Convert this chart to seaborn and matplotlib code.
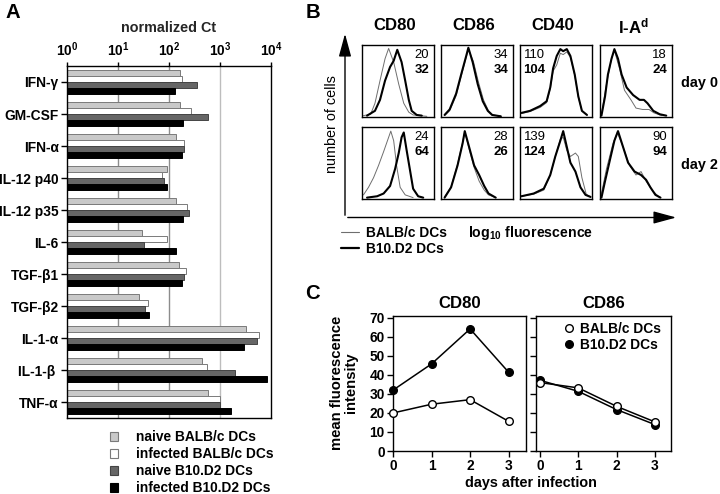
import matplotlib
matplotlib.use("Agg")
import matplotlib.pyplot as plt
import seaborn as sns
import pandas as pd
from matplotlib import font_manager
from matplotlib.lines import Line2D
from matplotlib.patches import FancyArrowPatch
from matplotlib.ticker import NullLocator

# ---------------- data ----------------
cytokines = ["IFN-γ", "GM-CSF", "IFN-α", "IL-12 p40", "IL-12 p35", "IL-6",
             "TGF-β1", "TGF-β2", "IL-1-α", "IL-1-β ", "TNF-α"]
groups = ["naive BALB/c DCs", "infected BALB/c DCs", "naive B10.D2 DCs", "infected B10.D2 DCs"]
naive_balb = [165, 165, 135, 90, 140, 30, 155, 26, 3200, 440, 590]
infected_balb = [180, 270, 200, 74, 230, 90, 215, 38, 5800, 560, 1000]
naive_b10 = [350, 570, 195, 80, 250, 32, 195, 34, 5200, 2000, 990]
infected_b10 = [132, 185, 178, 93, 185, 135, 180, 40, 2950, 8200, 1650]
decade_ticks = [1, 10, 100, 1000, 10000]
decade_labels = ["$10^{0}$", "$10^{1}$", "$10^{2}$", "$10^{3}$", "$10^{4}$"]

markers_B = ["CD80", "CD86", "CD40", "I-A$^{d}$"]
days_B = ["day 0", "day 2"]
mfi_balb_B = [[20, 34, 110, 18], [24, 28, 139, 90]]
mfi_b10_B = [[32, 34, 104, 24], [64, 26, 124, 94]]

# histogram traces (percent of box width / height)
cd80_d0_balb = [(2, 1), (12, 3), (18, 19), (25, 52), (32, 84), (37, 99), (44, 79), (51, 47), (58, 19), (65, 6), (71, 2), (90, 0)]
cd80_d0_b10 = [(7, 1), (18, 8), (25, 24), (32, 52), (39, 72), (44, 81), (49, 97), (55, 79), (60, 52), (65, 24), (69, 8), (76, 2), (83, 1)]
cd86_d0_balb = [(5, 1), (12, 8), (21, 30), (28, 58), (35, 86), (38, 98), (45, 80), (52, 50), (59, 24), (66, 8), (72, 2), (84, 0)]
cd86_d0_b10 = [(5, 2), (12, 10), (21, 33), (28, 61), (35, 88), (38, 100), (44, 79), (51, 47), (58, 22), (65, 8), (71, 2), (83, 0)]
cd40_d0_balb = [(2, 4), (14, 7), (28, 13), (37, 20), (42, 40), (46, 66), (51, 75), (56, 92), (60, 90), (65, 94), (70, 86), (76, 60), (81, 28), (86, 8), (93, 2)]
cd40_d0_b10 = [(2, 5), (14, 8), (28, 15), (37, 22), (42, 42), (46, 70), (51, 88), (56, 98), (60, 95), (65, 98), (70, 88), (76, 61), (81, 29), (86, 8), (93, 2)]
iad_d0_balb = [(2, 3), (9, 47), (16, 84), (20, 96), (27, 70), (34, 38), (43, 24), (50, 12), (59, 10), (68, 10), (75, 5), (86, 1)]
iad_d0_b10 = [(2, 1), (7, 29), (11, 61), (16, 84), (20, 98), (25, 84), (30, 61), (37, 42), (46, 31), (55, 24), (61, 24), (66, 19), (74, 8), (83, 3), (92, 1)]
cd80_d2_balb = [(2, 5), (9, 16), (16, 30), (23, 48), (30, 68), (37, 89), (40, 98), (44, 84), (48, 48), (53, 16), (60, 5), (71, 1)]
cd80_d2_b10 = [(7, 1), (21, 3), (30, 7), (39, 18), (46, 43), (51, 66), (55, 89), (58, 96), (62, 70), (67, 39), (71, 14), (78, 3), (85, 1)]
cd86_d2_balb = [(5, 2), (14, 17), (23, 50), (30, 82), (33, 97), (39, 72), (46, 45), (53, 25), (60, 12), (66, 5), (76, 1)]
cd86_d2_b10 = [(5, 1), (14, 16), (23, 48), (30, 80), (33, 98), (39, 75), (46, 48), (53, 34), (60, 18), (66, 7), (76, 1)]
cd40_d2_balb = [(2, 3), (19, 6), (33, 12), (42, 34), (49, 61), (56, 86), (60, 89), (65, 70), (70, 61), (77, 66), (81, 61), (86, 30), (92, 6), (98, 2)]
cd40_d2_b10 = [(2, 3), (19, 7), (33, 14), (42, 34), (49, 61), (56, 84), (60, 98), (65, 75), (70, 52), (77, 39), (84, 16), (91, 5), (98, 2)]
iad_d2_balb = [(2, 7), (9, 43), (18, 80), (24, 96), (32, 75), (41, 48), (50, 34), (57, 39), (64, 25), (73, 11), (82, 2)]
iad_d2_b10 = [(2, 1), (7, 25), (14, 57), (20, 84), (25, 98), (32, 75), (39, 52), (48, 39), (57, 34), (64, 27), (70, 16), (77, 5), (84, 1)]

days_C = [0, 1, 2, 3]
cd80_balb_C = [20, 24.6, 27, 15.6]
cd80_b10_C = [32, 45.8, 64.2, 41.4]
cd86_balb_C = [36, 33.2, 23.5, 15.3]
cd86_b10_C = [37.2, 31.4, 21.8, 13.9]

# ---------------- style ----------------
sns.set_theme(style="ticks")
names = {f.name for f in font_manager.fontManager.ttflist}
NARROW = "Liberation Sans Narrow" in names
FAM = "Liberation Sans Narrow" if NARROW else "Liberation Sans"
K = 1.0 if NARROW else 0.86
plt.rcParams["font.family"] = [FAM, "DejaVu Sans"]
plt.rcParams["font.weight"] = "bold"
plt.rcParams["mathtext.fontset"] = "custom"
plt.rcParams["mathtext.rm"] = FAM + ":bold"
plt.rcParams["mathtext.bf"] = FAM + ":bold"
plt.rcParams["mathtext.it"] = FAM + ":bold"
plt.rcParams["mathtext.default"] = "rm"
plt.rcParams["axes.edgecolor"] = "black"
plt.rcParams["axes.linewidth"] = 1.0
plt.rcParams["text.color"] = "black"
plt.rcParams["xtick.color"] = "black"
plt.rcParams["ytick.color"] = "black"

W, H = 720, 494
fig = plt.figure(figsize=(W / 100, H / 100), dpi=100)


def px(l, t, r, b):
    return [l / W, 1 - b / H, (r - l) / W, (b - t) / H]


# overlay for free text and arrows (pixel coords)
ov = fig.add_axes([0, 0, 1, 1], zorder=-1)
ov.set_xlim(0, W)
ov.set_ylim(H, 0)
ov.axis("off")

# ---------------- panel A ----------------
rows = []
for g, vals in zip(groups, [naive_balb, infected_balb, naive_b10, infected_b10]):
    for c, v in zip(cytokines, vals):
        rows.append({"cytokine": c, "value": v, "group": g})
dfA = pd.DataFrame(rows)
bar_faces = ["#c9c9c9", "#ffffff", "#666666", "#000000"]
bar_edges = ["#7a7a7a", "#7a7a7a", "#444444", "#000000"]

axA = fig.add_axes(px(67, 66, 271, 418))
sns.barplot(data=dfA, y="cytokine", x="value", hue="group", palette=bar_faces,
            orient="h", width=0.76, ax=axA, linewidth=0.7,
            saturation=1, zorder=2)
axA.set_xscale("log")
for xv, col in [(10, "#8c8c8c"), (100, "#8c8c8c"), (1000, "#bdbdbd")]:
    axA.axvline(xv, color=col, lw=1.0, zorder=0.5)
for cont, ec in zip(axA.containers, bar_edges):
    for p in cont:
        p.set_edgecolor(ec)
handles, labels = axA.get_legend_handles_labels()
if axA.get_legend() is not None:
    axA.get_legend().remove()
axA.set_xlim(1, 10000)
axA.set_ylim(10.5, -0.5)
axA.xaxis.tick_top()
axA.set_xticks(decade_ticks)
axA.set_xticklabels(decade_labels)
axA.xaxis.set_minor_locator(NullLocator())
axA.tick_params(axis="x", top=True, bottom=False, length=3, width=1, labelsize=11.5 * K, pad=2)
axA.tick_params(axis="y", left=True, length=4, width=1, labelsize=11.5 * K, pad=2)
axA.xaxis.set_label_position("top")
axA.set_xlabel("normalized Ct", fontsize=12 * K, fontweight="bold", labelpad=6)
axA.set_ylabel("")
for s in axA.spines.values():
    s.set_visible(True)
    s.set_color("black")

for h, ec in zip(handles, bar_edges):
    h.set_edgecolor(ec)
    h.set_linewidth(0.8)
fig.legend(handles, labels, loc="upper left", bbox_to_anchor=(110 / W, 1 - 430 / H),
           frameon=False, handlelength=0.6, handleheight=0.6, handletextpad=1.3,
           labelspacing=0.22, fontsize=11.5 * K, borderaxespad=0, borderpad=0)

ov.text(13, 13, "A", fontsize=17 * K, fontweight="bold", ha="center", va="center")

# ---------------- panel B ----------------
traces_balb = [[cd80_d0_balb, cd86_d0_balb, cd40_d0_balb, iad_d0_balb],
               [cd80_d2_balb, cd86_d2_balb, cd40_d2_balb, iad_d2_balb]]
traces_b10 = [[cd80_d0_b10, cd86_d0_b10, cd40_d0_b10, iad_d0_b10],
              [cd80_d2_b10, cd86_d2_b10, cd40_d2_b10, iad_d2_b10]]
col_left = [362, 441, 520, 600]
row_top = [45, 127]
BOX = 72
for r in range(2):
    for c in range(4):
        l, t = col_left[c], row_top[r]
        ax = fig.add_axes(px(l, t, l + BOX, t + BOX))
        tb = traces_balb[r][c]
        tk = traces_b10[r][c]
        sns.lineplot(x=[p[0] for p in tb], y=[p[1] for p in tb], color="#6e6e6e",
                     linewidth=0.7, ax=ax, sort=False, estimator=None)
        sns.lineplot(x=[p[0] for p in tk], y=[p[1] for p in tk], color="black",
                     linewidth=1.5, ax=ax, sort=False, estimator=None)
        ax.set_xlim(0, 100)
        ax.set_ylim(-1, 104)
        ax.set_xticks([])
        ax.set_yticks([])
        ax.set_xlabel("")
        ax.set_ylabel("")
        for s in ax.spines.values():
            s.set_visible(True)
            s.set_linewidth(1.0)
        if c == 2:
            xx, ha = 0.05, "left"
        else:
            xx, ha = 0.93, "right"
        ax.text(xx, 0.95, str(mfi_balb_B[r][c]), transform=ax.transAxes, ha=ha, va="top",
                fontsize=11 * K, fontweight="normal")
        ax.text(xx, 0.74, str(mfi_b10_B[r][c]), transform=ax.transAxes, ha=ha, va="top",
                fontsize=11 * K, fontweight="bold")
        if r == 0:
            ov.text(l + BOX / 2 - 3, 26, markers_B[c], fontsize=14 * K, fontweight="bold",
                    ha="center", va="center")
    ov.text(681, row_top[r] + BOX / 2 + 2, days_B[r], fontsize=12 * K, fontweight="bold",
            ha="left", va="center")

ov.add_patch(FancyArrowPatch((345, 218), (345, 31), arrowstyle="-|>,head_length=7,head_width=1.9",
                             mutation_scale=2.0, color="black", lw=1.0))
ov.add_patch(FancyArrowPatch((345, 217.5), (679, 217.5), arrowstyle="-|>,head_length=7,head_width=1.9",
                             mutation_scale=2.0, color="black", lw=1.0))
ov.text(332, 124, "number of cells", rotation=90, fontsize=12 * K, fontweight="normal",
        ha="center", va="center")
ov.text(468, 233, "log$_{10}$ fluorescence", fontsize=11.8 * K, fontweight="bold",
        ha="left", va="center")
legB = [Line2D([0], [0], color="#6e6e6e", lw=0.8), Line2D([0], [0], color="black", lw=1.6)]
fig.legend(legB, ["BALB/c DCs", "B10.D2 DCs"], loc="upper left",
           bbox_to_anchor=(341 / W, 1 - 226 / H), frameon=False, handlelength=1.3,
           handletextpad=0.5, labelspacing=0.12, fontsize=11.5 * K,
           borderaxespad=0, borderpad=0)
ov.text(313, 13, "B", fontsize=17 * K, fontweight="bold", ha="center", va="center")

# ---------------- panel C ----------------
axC1 = fig.add_axes(px(393, 316, 526, 451))
axC2 = fig.add_axes(px(536, 316, 671, 451))
for ax, balb, b10 in [(axC1, cd80_balb_C, cd80_b10_C), (axC2, cd86_balb_C, cd86_b10_C)]:
    sns.lineplot(x=days_C, y=b10, color="black", lw=1.1, marker="o", markersize=5.5,
                 markerfacecolor="black", markeredgecolor="black", markeredgewidth=1.0,
                 ax=ax, clip_on=False, zorder=3)
    sns.lineplot(x=days_C, y=balb, color="black", lw=1.1, marker="o", markersize=5.5,
                 markerfacecolor="white", markeredgecolor="black", markeredgewidth=1.0,
                 ax=ax, clip_on=False, zorder=4)
    ax.set_ylim(0, 71)
    ax.set_yticks(range(0, 71, 10))
    ax.set_xticks(days_C)
    ax.set_xlabel("")
    ax.set_ylabel("")
    for s in ax.spines.values():
        s.set_visible(True)
        s.set_linewidth(1.0)
    ax.tick_params(axis="both", length=4, width=1, labelsize=11.5 * K, pad=2)
axC1.set_xlim(0, 3.45)
axC2.set_xlim(-0.1, 3.42)
axC2.set_yticklabels([])
axC1.set_title("CD80", fontsize=14 * K, fontweight="bold", pad=6)
axC2.set_title("CD86", fontsize=14 * K, fontweight="bold", pad=6)
legC = [Line2D([0], [0], ls="none", marker="o", markersize=5.5, markerfacecolor="white",
               markeredgecolor="black"),
        Line2D([0], [0], ls="none", marker="o", markersize=5.5, markerfacecolor="black",
               markeredgecolor="black")]
axC2.legend(legC, ["BALB/c DCs", "B10.D2 DCs"], loc="upper left",
            bbox_to_anchor=(564 / W, 1 - 322 / H), bbox_transform=fig.transFigure,
            frameon=False, handlelength=0.8, handletextpad=0.4, labelspacing=0.15,
            fontsize=11.5 * K, borderaxespad=0, borderpad=0)
ov.text(344, 383, "mean fluorescence\nintensity", rotation=90, fontsize=12.5 * K,
        fontweight="bold", ha="center", va="center", linespacing=0.95, multialignment="center")
ov.text(531, 483, "days after infection", fontsize=12 * K, fontweight="bold",
        ha="center", va="center")
ov.text(312, 293, "C", fontsize=17 * K, fontweight="bold", ha="center", va="center")

fig.savefig("out.png", dpi=100)
